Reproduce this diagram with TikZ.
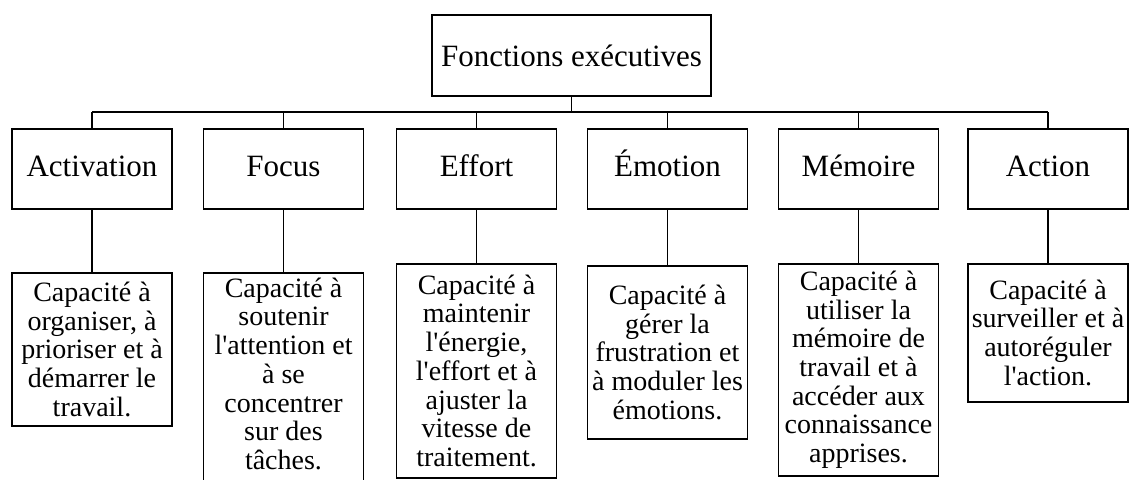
\documentclass[tikz,border=0pt]{standalone}
\usepackage{fontspec}
\setmainfont{Liberation Serif}[Ligatures=TeXOff]
\usepackage{tikz}

\begin{document}
\begin{tikzpicture}[x=1pt,y=-1pt,
    titre/.style={draw, line width=1.6pt, minimum width=279pt, minimum height=81pt, font=\fontsize{31}{32}\selectfont},
    fonction/.style={draw, line width=1.6pt, minimum width=160pt, minimum height=80pt, text height=22pt, text depth=7pt, font=\fontsize{31}{32}\selectfont},
    capacite/.style={draw, line width=1.6pt, anchor=north, minimum width=160pt, inner xsep=1pt, inner ysep=5pt, align=center, font=\fontsize{28}{28.7}\selectfont},
    lien/.style={line width=1.6pt}]
    \useasboundingbox (0,0) rectangle (1129,479);
    \clip (0,0) rectangle (1129,479);

    \node[titre] (fe) at (571.5,55.5) {Fonctions exécutives};

    \node[fonction] (act) at (92,169) {Activation};
    \node[fonction] (foc) at (283.5,169) {Focus};
    \node[fonction] (eff) at (476.5,169) {Effort};
    \node[fonction] (emo) at (667.5,169) {Émotion};
    \node[fonction] (mem) at (858.5,169) {Mémoire};
    \node[fonction] (acn) at (1048,169) {Action};

    \node[capacite, minimum height=153pt] (act-cap) at (92,272) {Capacité à\\organiser, à\\prioriser et à\\démarrer le\\travail.};
    \node[capacite] (foc-cap) at (283.5,272) {Capacité à\\soutenir\\l'attention et\\à se\\concentrer\\sur des\\tâches.\\\mbox{}};
    \node[capacite, minimum height=214pt] (eff-cap) at (476.5,263) {Capacité à\\maintenir\\l'énergie,\\l'effort et à\\ajuster la\\vitesse de\\traitement.};
    \node[capacite, minimum height=173pt] (emo-cap) at (667.5,265) {Capacité à\\gérer la\\frustration et\\à moduler les\\émotions.};
    \node[capacite, minimum height=212pt] (mem-cap) at (858.5,263) {Capacité à\\utiliser la\\mémoire de\\travail et à\\accéder aux\\connaissance\\apprises.};
    \node[capacite, minimum height=138pt] (acn-cap) at (1048,263) {Capacité à\\surveiller et à\\autoréguler\\l'action.};

    % barre horizontale
    \coordinate (bg) at (92,112);
    \coordinate (bd) at (1048,112);
    \draw[lien] (bg) -- (bd);
    \draw[lien] (fe.south) -- (fe.south |- bg);

    \draw[lien] (act.north) -- (act.north |- bg);
    \draw[lien] (foc.north) -- (foc.north |- bg);
    \draw[lien] (eff.north) -- (eff.north |- bg);
    \draw[lien] (emo.north) -- (emo.north |- bg);
    \draw[lien] (mem.north) -- (mem.north |- bg);
    \draw[lien] (acn.north) -- (acn.north |- bg);

    \draw[lien] (act.south) -- (act-cap.north);
    \draw[lien] (foc.south) -- (foc-cap.north);
    \draw[lien] (eff.south) -- (eff-cap.north);
    \draw[lien] (emo.south) -- (emo-cap.north);
    \draw[lien] (mem.south) -- (mem-cap.north);
    \draw[lien] (acn.south) -- (acn-cap.north);

\end{tikzpicture}
\end{document}
